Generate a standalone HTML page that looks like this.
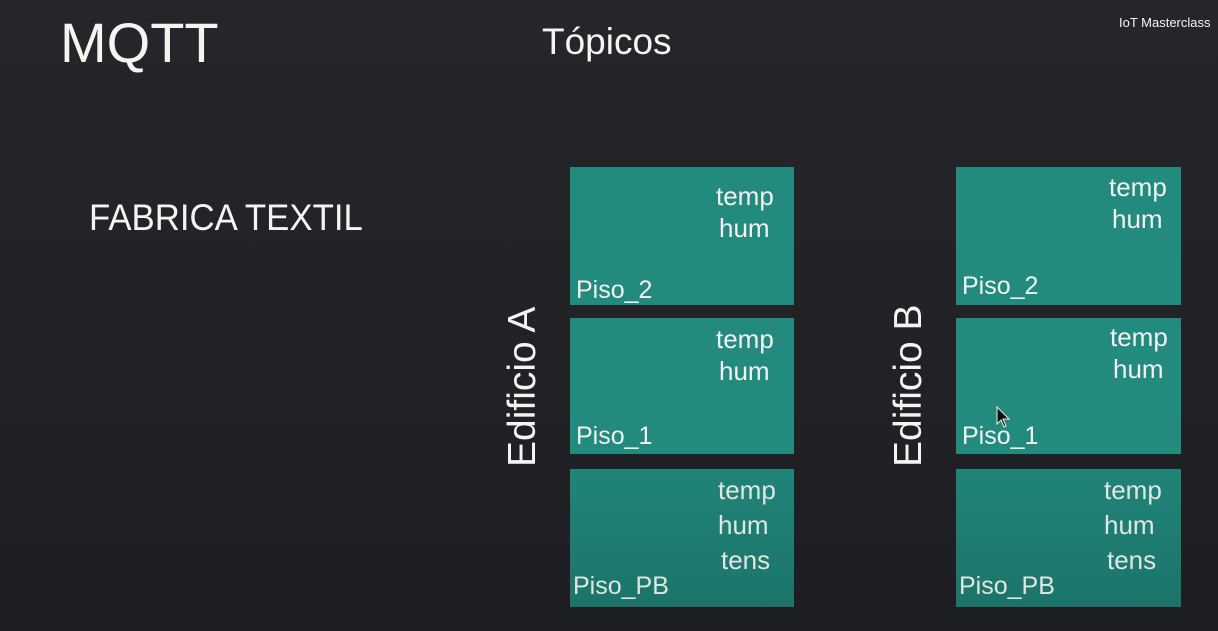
<!DOCTYPE html>
<html><head><meta charset="utf-8"><style>
html,body{margin:0;padding:0}
body{width:1218px;height:631px;overflow:hidden;position:relative;background:linear-gradient(180deg,#252629 0%,#212226 60%,#1d1e22 100%);font-family:"Liberation Sans",sans-serif;color:#f4f4f4}
.t{position:absolute;white-space:nowrap;line-height:1}
.b{position:absolute;background:#238a7e}
.b2{background:linear-gradient(180deg,#218478,#1c7469)}
.s{font-size:26px;color:#f2f2f2}
.p{font-size:25px;color:#f2f2f2}
.r{transform-origin:left top}
</style></head><body>
<div class="t" style="left:60px;top:15px;font-size:56px;">MQTT</div>
<div class="t" style="left:542px;top:23px;font-size:37px;">Tópicos</div>
<div class="t" style="left:1119px;top:16px;font-size:13px;">IoT Masterclass</div>
<div class="t" style="left:89px;top:199px;font-size:37px;transform:scaleX(.94);transform-origin:left">FABRICA TEXTIL</div>

<div class="t r" style="left:503px;top:467px;font-size:39px;transform:rotate(-90deg);">Edificio A</div>
<div class="t r" style="left:889px;top:467px;font-size:39px;transform:rotate(-90deg);">Edificio B</div>

<!-- A -->
<div class="b" style="left:570px;top:167px;width:224px;height:138px"></div>
<div class="t s" style="left:716px;top:183px">temp</div>
<div class="t s" style="left:719px;top:215px">hum</div>
<div class="t p" style="left:576px;top:278px">Piso_2</div>

<div class="b" style="left:570px;top:318px;width:224px;height:136px"></div>
<div class="t s" style="left:716px;top:326px">temp</div>
<div class="t s" style="left:719px;top:358px">hum</div>
<div class="t p" style="left:576px;top:424px">Piso_1</div>

<div class="b b2" style="left:570px;top:469px;width:224px;height:138px"></div>
<div class="t s" style="left:718px;top:477px;color:#dfe6e4">temp</div>
<div class="t s" style="left:718px;top:512px;color:#dfe6e4">hum</div>
<div class="t s" style="left:721px;top:547px;color:#dfe6e4">tens</div>
<div class="t p" style="left:573px;top:574px;color:#dfe6e4">Piso_PB</div>

<!-- B -->
<div class="b" style="left:956px;top:167px;width:225px;height:138px"></div>
<div class="t s" style="left:1109px;top:174px">temp</div>
<div class="t s" style="left:1112px;top:206px">hum</div>
<div class="t p" style="left:962px;top:274px">Piso_2</div>

<div class="b" style="left:956px;top:318px;width:225px;height:136px"></div>
<div class="t s" style="left:1110px;top:324px">temp</div>
<div class="t s" style="left:1113px;top:356px">hum</div>
<div class="t p" style="left:962px;top:424px">Piso_1</div>
<svg style="position:absolute;left:996px;top:406px" width="16" height="24" viewBox="0 0 16 24"><path d="M1 1 L1 18 L5 14 L8 21 L10 20 L7 13 L13 13 Z" fill="#111" stroke="#eee" stroke-width="1"/></svg>

<div class="b b2" style="left:956px;top:469px;width:225px;height:138px"></div>
<div class="t s" style="left:1104px;top:477px;color:#dfe6e4">temp</div>
<div class="t s" style="left:1104px;top:512px;color:#dfe6e4">hum</div>
<div class="t s" style="left:1107px;top:547px;color:#dfe6e4">tens</div>
<div class="t p" style="left:959px;top:574px;color:#dfe6e4">Piso_PB</div>
</body></html>
